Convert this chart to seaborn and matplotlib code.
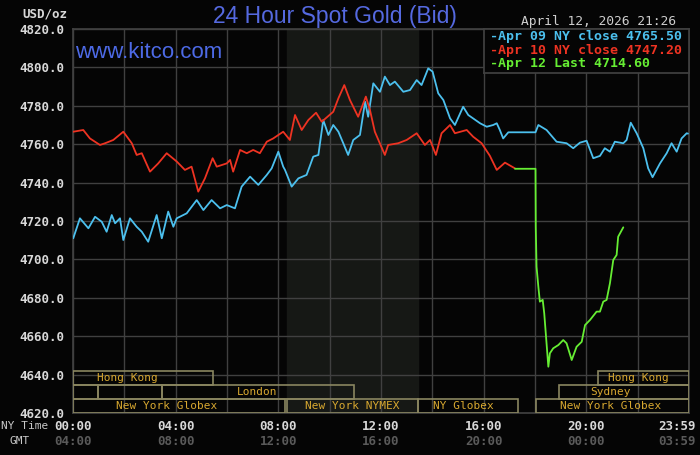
import numpy as np
import pandas as pd
import matplotlib
matplotlib.use("Agg")
import matplotlib.pyplot as plt
from matplotlib.patches import Rectangle
import seaborn as sns

# hours since 00:00 NY time, price in USD/oz
apr09_hours = [0.01, 0.27, 0.60, 0.86, 1.12, 1.31, 1.51, 1.64, 1.83, 1.96, 2.22, 2.48, 2.68, 2.93,
               3.26, 3.46, 3.71, 3.91, 4.04, 4.43, 4.82, 5.08, 5.40, 5.73, 5.99, 6.31, 6.57, 6.90,
               7.22, 7.55, 7.74, 8.00, 8.19, 8.26, 8.52, 8.78, 9.10, 9.36, 9.56, 9.75, 9.95, 10.14,
               10.34, 10.53, 10.72, 10.92, 11.18, 11.38, 11.50, 11.70, 11.96, 12.15, 12.35, 12.54,
               12.87, 13.13, 13.39, 13.58, 13.84, 14.01, 14.23, 14.43, 14.69, 14.88, 15.20, 15.40,
               15.86, 16.12, 16.37, 16.51, 16.63, 16.76, 16.96, 18.02, 18.13, 18.45, 18.84, 19.23,
               19.49, 19.75, 20.01, 20.27, 20.53, 20.72, 20.92, 21.11, 21.44, 21.57, 21.73, 21.96,
               22.22, 22.41, 22.58, 22.87, 23.13, 23.32, 23.52, 23.71, 23.91, 23.96]
apr09_price = [4711.0, 4721.4, 4716.2, 4722.2, 4719.6, 4714.4, 4723.1, 4718.8, 4721.4, 4710.1,
               4721.4, 4717.0, 4714.4, 4709.2, 4723.1, 4711.0, 4724.9, 4717.0, 4721.4, 4724.0,
               4730.9, 4725.7, 4730.9, 4726.6, 4728.3, 4726.6, 4737.9, 4743.1, 4738.8, 4744.0,
               4747.4, 4756.1, 4748.3, 4746.6, 4737.9, 4742.2, 4744.0, 4753.5, 4754.4, 4772.6,
               4764.8, 4770.0, 4766.5, 4760.5, 4754.4, 4762.2, 4764.8, 4782.1, 4774.3, 4791.7,
               4787.3, 4795.2, 4790.8, 4792.6, 4787.3, 4788.2, 4793.4, 4790.8, 4799.5, 4797.8,
               4786.5, 4783.0, 4773.5, 4770.0, 4779.5, 4775.2, 4770.9, 4769.1, 4770.0, 4770.9,
               4767.4, 4763.0, 4766.2, 4766.2, 4770.0, 4767.4, 4761.3, 4760.5, 4757.9, 4760.8,
               4761.8, 4752.7, 4753.9, 4757.9, 4756.1, 4761.3, 4760.5, 4762.2, 4771.2, 4765.7,
               4757.9, 4747.4, 4742.8, 4750.0, 4755.3, 4760.5, 4756.1, 4763.0, 4765.7, 4765.5]

apr10_hours = [0.01, 0.40, 0.66, 1.05, 1.25, 1.57, 1.96, 2.29, 2.48, 2.68, 3.00, 3.32, 3.65, 4.04,
               4.36, 4.62, 4.88, 5.14, 5.44, 5.60, 5.99, 6.12, 6.24, 6.51, 6.77, 7.02, 7.28, 7.55,
               7.80, 8.19, 8.45, 8.65, 8.91, 9.17, 9.47, 9.69, 10.14, 10.34, 10.57, 10.79, 11.11,
               11.41, 11.57, 11.76, 12.15, 12.28, 12.67, 13.00, 13.39, 13.71, 13.91, 14.14, 14.36,
               14.69, 14.88, 15.34, 15.59, 15.92, 16.24, 16.51, 16.83, 17.22]
apr10_price = [4766.5, 4767.4, 4763.0, 4759.6, 4760.5, 4762.2, 4766.5, 4760.5, 4754.4, 4755.3,
               4745.7, 4750.0, 4755.3, 4751.0, 4746.6, 4748.3, 4735.3, 4742.2, 4752.7, 4748.3,
               4750.0, 4751.8, 4745.7, 4757.0, 4755.3, 4757.0, 4755.3, 4761.3, 4763.0, 4766.5,
               4762.2, 4775.2, 4767.4, 4772.6, 4776.4, 4771.7, 4776.9, 4783.9, 4790.8, 4783.0,
               4774.3, 4784.8, 4777.8, 4766.5, 4754.4, 4759.6, 4760.5, 4762.2, 4765.7, 4759.6,
               4762.2, 4754.4, 4765.7, 4770.0, 4765.7, 4767.4, 4763.9, 4760.5, 4754.0, 4746.6,
               4750.4, 4747.4]

apr12_hours = [17.22, 18.02, 18.03, 18.06, 18.13, 18.19, 18.30, 18.36, 18.52, 18.58, 18.71, 18.91,
               19.10, 19.23, 19.43, 19.62, 19.82, 19.95, 20.14, 20.40, 20.53, 20.66, 20.79, 20.92,
               21.05, 21.18, 21.24, 21.44]
apr12_price = [4747.2, 4747.2, 4717.0, 4696.2, 4685.8, 4678.0, 4678.9, 4671.9, 4644.1, 4651.1,
               4653.7, 4655.4, 4658.0, 4656.3, 4647.6, 4654.5, 4657.1, 4665.8, 4668.4, 4672.8,
               4672.8, 4678.0, 4678.9, 4687.6, 4699.7, 4702.3, 4711.8, 4716.7]

legend_labels = ["Apr 09 NY close 4765.50", "Apr 10 NY close 4747.20", "Apr 12 Last 4714.60"]
line_colors = ["#4cc0ee", "#ee3322", "#66ee33"]

y_ticks = [4620, 4640, 4660, 4680, 4700, 4720, 4740, 4760, 4780, 4800, 4820]
x_tick_hours = [0, 4, 8, 12, 16, 20, 23.98]
ny_labels = ["00:00", "04:00", "08:00", "12:00", "16:00", "20:00", "23:59"]
gmt_labels = ["04:00", "08:00", "12:00", "16:00", "20:00", "00:00", "03:59"]

# trading sessions: row (0 = bottom), start, end, label, label centre
session_row = [2, 1, 1, 1, 0, 0, 0, 2, 1, 0]
session_start = [0.0, 0.0, 0.96, 3.46, 0.0, 8.33, 13.45, 20.45, 18.93, 18.02]
session_end = [5.44, 0.96, 3.46, 10.95, 8.26, 13.45, 17.32, 24.0, 24.0, 24.0]
session_label = ["Hong Kong", "", "", "London", "New York Globex", "New York NYMEX",
                 "NY Globex", "Hong Kong", "Sydney", "New York Globex"]
session_label_at = [2.1, 0, 0, 7.16, 3.65, 10.89, 15.19, 22.04, 20.96, 20.96]
nymex_open, nymex_close = 8.33, 13.45

frames = []
for name, h, p in [("apr09", apr09_hours, apr09_price),
                   ("apr10", apr10_hours, apr10_price),
                   ("apr12", apr12_hours, apr12_price)]:
    frames.append(pd.DataFrame({"hour": h, "price": p, "day": name}))
df = pd.concat(frames, ignore_index=True)

sns.set_theme(style="dark")
plt.rcParams["font.family"] = ["DejaVu Sans Mono"]

fig = plt.figure(figsize=(7, 4.55), dpi=100, facecolor="#050505")
ax = fig.add_axes([73 / 700, 1 - 413 / 455, 616 / 700, 384 / 455])
ax.set_facecolor("#050505")

ax.axvspan(nymex_open, nymex_close, color="#161815", zorder=0)

sns.lineplot(data=df, x="hour", y="price", hue="day", palette=line_colors,
             linewidth=1.3, legend=False, ax=ax, zorder=3, estimator=None, sort=False)

ax.set_xlim(0, 24)
ax.set_ylim(4620, 4820)
ax.set_xticks(np.arange(0, 25, 2))
ax.set_yticks(y_ticks)
ax.grid(True, color="#404040", linewidth=1.0, zorder=1)
ax.set_axisbelow(True)
ax.tick_params(length=0, labelbottom=False)
ax.set_yticklabels([f"{v:.1f}" for v in y_ticks], color="#d8d8d8", fontsize=9, fontweight="bold")
ax.tick_params(axis="y", pad=6)
ax.set_xlabel("")
ax.set_ylabel("")
for s in ax.spines.values():
    s.set_color("#404040")

# session boxes
row_h = 7.3
for r, a, b, lab, lx in zip(session_row, session_start, session_end, session_label, session_label_at):
    y0 = 4620 + r * row_h
    ax.add_patch(Rectangle((a, y0), b - a, row_h, fill=False, edgecolor="#8a8660",
                           linewidth=1.2, zorder=4))
    if lab:
        ax.text(lx, y0 + row_h / 2, lab, color="#d8a830", fontsize=8,
                ha="center", va="center", zorder=5)

# time labels
for h, ny, gmt in zip(x_tick_hours, ny_labels, gmt_labels):
    ha = "center" if h < 23 else "right"
    xo = h if h < 23 else 24.25
    ax.text(xo, 4620 - 7, ny, color="#d8d8d8", fontsize=9, fontweight="bold",
            ha=ha, va="center", clip_on=False)
    ax.text(xo, 4620 - 15, gmt, color="#5a5a5a", fontsize=9, fontweight="bold",
            ha=ha, va="center", clip_on=False)
fig.text(1 / 700, 1 - 426 / 455, "NY Time", color="#c8c8c8", fontsize=8, va="center")
fig.text(20 / 700, 1 - 441 / 455, "GMT", color="#c8c8c8", fontsize=8, va="center", ha="center")
fig.text(67 / 700, 1 - 14 / 455, "USD/oz", color="#d8d8d8", fontsize=9, fontweight="bold",
         ha="right", va="center")

# titles
fig.text(335 / 700, 1 - 17 / 455, "24 Hour Spot Gold (Bid)", color="#5569e0", fontsize=16.5,
         ha="center", va="center", family=["Liberation Sans", "DejaVu Sans"])
fig.text(75 / 700, 1 - 53 / 455, "www.kitco.com", color="#4d6ae6", fontsize=16,
         ha="left", va="center", family=["Liberation Sans", "DejaVu Sans"])
fig.text(676 / 700, 1 - 21 / 455, "April 12, 2026 21:26", color="#cfcfcf", fontsize=9.3,
         ha="right", va="center")

# legend box
lax = fig.add_axes([484 / 700, 1 - 73 / 455, 205 / 700, 44 / 455])
lax.set_facecolor("#050505")
lax.set_xticks([])
lax.set_yticks([])
for s in lax.spines.values():
    s.set_color("#404040")
for i, (lab, c) in enumerate(zip(legend_labels, line_colors)):
    lax.text(0.03, 0.83 - i * 0.31, "-" + lab, color=c, fontsize=9.5, fontweight="bold",
             ha="left", va="center", transform=lax.transAxes)

fig.savefig("out.png", dpi=100, facecolor=fig.get_facecolor())
